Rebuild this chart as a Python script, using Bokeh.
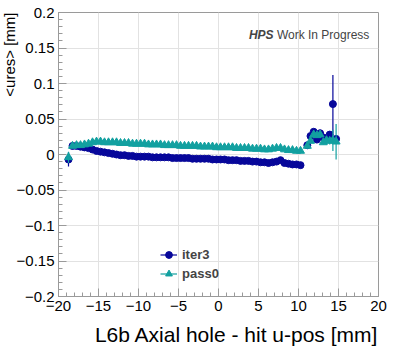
from bokeh.plotting import figure
from bokeh.models import (ColumnDataSource, FixedTicker, CustomJSTickFormatter,
                          Label, Legend, LegendItem, Range1d, Title)
from bokeh.embed import file_html
from bokeh.resources import INLINE

FONT = "Liberation Sans"

# ---- data (bin centres in mm, mean residuals in mm) ----
x_pos = [-18.75, -18.25, -17.75, -17.25, -16.75, -16.25, -15.75, -15.25, -14.75, -14.25,
         -13.75, -13.25, -12.75, -12.25, -11.75, -11.25, -10.75, -10.25, -9.75, -9.25,
         -8.75, -8.25, -7.75, -7.25, -6.75, -6.25, -5.75, -5.25, -4.75, -4.25,
         -3.75, -3.25, -2.75, -2.25, -1.75, -1.25, -0.75, -0.25, 0.25, 0.75,
         1.25, 1.75, 2.25, 2.75, 3.25, 3.75, 4.25, 4.75, 5.25, 5.75,
         6.25, 6.75, 7.25, 7.75, 8.25, 8.75, 9.25, 9.75, 10.25,
         11.1, 11.5, 11.9, 12.3, 12.7, 13.1, 13.5, 13.9, 14.3, 14.7]

iter3_mean = [-0.007, 0.012, 0.012, 0.011, 0.010, 0.009, 0.007, 0.005, 0.004, 0.003,
              0.002, 0.001, 0.000, -0.001, -0.001, -0.002, -0.002, -0.003, -0.003, -0.003,
              -0.003, -0.004, -0.004, -0.004, -0.004, -0.004, -0.005, -0.005, -0.005, -0.005,
              -0.005, -0.006, -0.006, -0.006, -0.006, -0.006, -0.007, -0.007, -0.007, -0.007,
              -0.008, -0.008, -0.008, -0.009, -0.009, -0.009, -0.010, -0.010, -0.011, -0.011,
              -0.012, -0.011, -0.010, -0.008, -0.012, -0.013, -0.014, -0.014, -0.015,
              0.013, 0.026, 0.032, 0.021, 0.030, 0.024, 0.021, 0.028, 0.071, 0.022]
iter3_err = [0.010, 0.001, 0.001, 0.001, 0.001, 0.001, 0.001, 0.001, 0.001, 0.001,
             0.001, 0.001, 0.001, 0.001, 0.001, 0.001, 0.001, 0.001, 0.001, 0.001,
             0.001, 0.001, 0.001, 0.001, 0.001, 0.001, 0.001, 0.001, 0.001, 0.001,
             0.001, 0.001, 0.001, 0.001, 0.001, 0.001, 0.001, 0.001, 0.001, 0.001,
             0.001, 0.001, 0.001, 0.001, 0.001, 0.001, 0.001, 0.001, 0.001, 0.001,
             0.001, 0.001, 0.002, 0.002, 0.002, 0.002, 0.002, 0.002, 0.002,
             0.002, 0.003, 0.003, 0.003, 0.003, 0.003, 0.004, 0.004, 0.041, 0.005]

pass0_mean = [-0.004, 0.012, 0.013, 0.013, 0.014, 0.015, 0.017, 0.018, 0.018, 0.017,
              0.017, 0.017, 0.017, 0.016, 0.016, 0.016, 0.015, 0.015, 0.015, 0.015,
              0.014, 0.014, 0.014, 0.014, 0.013, 0.013, 0.013, 0.013, 0.012, 0.012,
              0.012, 0.012, 0.012, 0.011, 0.011, 0.011, 0.011, 0.010, 0.010, 0.010,
              0.010, 0.010, 0.009, 0.009, 0.009, 0.009, 0.008, 0.008, 0.008, 0.007,
              0.007, 0.008, 0.009, 0.009, 0.007, 0.006, 0.006, 0.005, 0.005,
              0.012, 0.019, 0.028, 0.027, 0.028, 0.017, 0.020, 0.019, 0.020, 0.018]
pass0_err = [0.008, 0.001, 0.001, 0.001, 0.001, 0.001, 0.001, 0.001, 0.001, 0.001,
             0.001, 0.001, 0.001, 0.001, 0.001, 0.001, 0.001, 0.001, 0.001, 0.001,
             0.001, 0.001, 0.001, 0.001, 0.001, 0.001, 0.001, 0.001, 0.001, 0.001,
             0.001, 0.001, 0.001, 0.001, 0.001, 0.001, 0.001, 0.001, 0.001, 0.001,
             0.001, 0.001, 0.001, 0.001, 0.001, 0.001, 0.001, 0.001, 0.001, 0.001,
             0.001, 0.001, 0.002, 0.002, 0.002, 0.002, 0.002, 0.002, 0.002,
             0.002, 0.003, 0.003, 0.003, 0.003, 0.003, 0.004, 0.005, 0.015, 0.025]

x_ticks = [-20, -15, -10, -5, 0, 5, 10, 15, 20]
y_ticks = [-0.2, -0.15, -0.1, -0.05, 0.0, 0.05, 0.1, 0.15, 0.2]

C_ITER3 = "#07079a"
C_PASS0 = "#12a0a0"
AXC = "#9a9a9a"

p = figure(width=399, height=352, output_backend="svg", toolbar_location=None,
           x_range=Range1d(-20, 20), y_range=Range1d(-0.2, 0.2),
           min_border_left=58, min_border_right=21, min_border_top=12,
           min_border_bottom=54, background_fill_color="white",
           border_fill_color="white")
p.outline_line_color = AXC


def series(xs, ys, es):
    return ColumnDataSource(dict(x=xs, y=ys,
                                 lo=[a - b for a, b in zip(ys, es)],
                                 hi=[a + b for a, b in zip(ys, es)]))


s1 = series(x_pos, iter3_mean, iter3_err)
s2 = series(x_pos, pass0_mean, pass0_err)

seg1 = p.segment(x0="x", y0="lo", x1="x", y1="hi", source=s1,
                 line_color=C_ITER3, line_width=1.2)
sc1 = p.scatter(x="x", y="y", source=s1, marker="circle", size=7,
                fill_color=C_ITER3, line_color=C_ITER3)
seg2 = p.segment(x0="x", y0="lo", x1="x", y1="hi", source=s2,
                 line_color=C_PASS0, line_width=1.2)
sc2 = p.scatter(x="x", y="y", source=s2, marker="triangle", size=8,
                fill_color=C_PASS0, line_color=C_PASS0)

# axes
p.xaxis.ticker = FixedTicker(ticks=x_ticks, minor_ticks=list(range(-20, 21)))
p.yaxis.ticker = FixedTicker(ticks=y_ticks,
                             minor_ticks=[i / 100 for i in range(-20, 21)])
p.xgrid.ticker = FixedTicker(ticks=x_ticks)
p.ygrid.ticker = FixedTicker(ticks=y_ticks)
p.xgrid.grid_line_color = "#e2e2e2"
p.ygrid.grid_line_color = "#e2e2e2"

fmt = CustomJSTickFormatter(code="""
    var v = Math.abs(tick) < 1e-9 ? 0 : parseFloat(tick.toFixed(3));
    var s = String(Math.abs(v));
    return (v < 0 ? '\u2212' : '') + s;
""")
for ax in (p.xaxis[0], p.yaxis[0]):
    ax.formatter = fmt
    ax.axis_line_color = AXC
    ax.major_tick_line_color = AXC
    ax.minor_tick_line_color = AXC
    ax.major_tick_in = 8
    ax.major_tick_out = 0
    ax.minor_tick_in = 4
    ax.minor_tick_out = 0
    ax.major_label_text_font = FONT
    ax.major_label_text_font_size = "15px"
    ax.major_label_text_color = "black"

p.xaxis.major_label_standoff = 4
p.yaxis.major_label_standoff = 4

# axis titles, right-aligned to the frame end as in ROOT
p.add_layout(Title(text="L6b Axial hole - hit u-pos [mm]", align="right",
                   text_font=FONT, text_font_size="21px",
                   text_font_style="normal", text_color="black",
                   standoff=14), "below")
p.add_layout(Title(text="<ures> [mm]", align="right",
                   text_font=FONT, text_font_size="15px",
                   text_font_style="normal", text_color="black",
                   standoff=-9), "left")

# legend
legend = Legend(items=[LegendItem(label="iter3", renderers=[seg1, sc1]),
                       LegendItem(label="pass0", renderers=[seg2, sc2])],
                location=(102, 13), padding=0, margin=0, spacing=0,
                glyph_width=17, glyph_height=19, label_height=19,
                label_standoff=5, label_text_font=FONT,
                label_text_font_size="13px", label_text_font_style="bold",
                background_fill_alpha=0, border_line_alpha=0)
p.add_layout(legend, "center")

# header text (kept inside the frame so it is not clipped)
p.add_layout(Label(x=3.8, y=0.169, text="HPS", text_font=FONT,
                   text_font_style="bold italic", text_font_size="12px",
                   text_baseline="alphabetic"))
p.add_layout(Label(x=7.3, y=0.169, text="Work In Progress", text_font=FONT,
                   text_font_size="12px", text_baseline="alphabetic"))

open("out.html", "w").write(file_html(p, INLINE))
